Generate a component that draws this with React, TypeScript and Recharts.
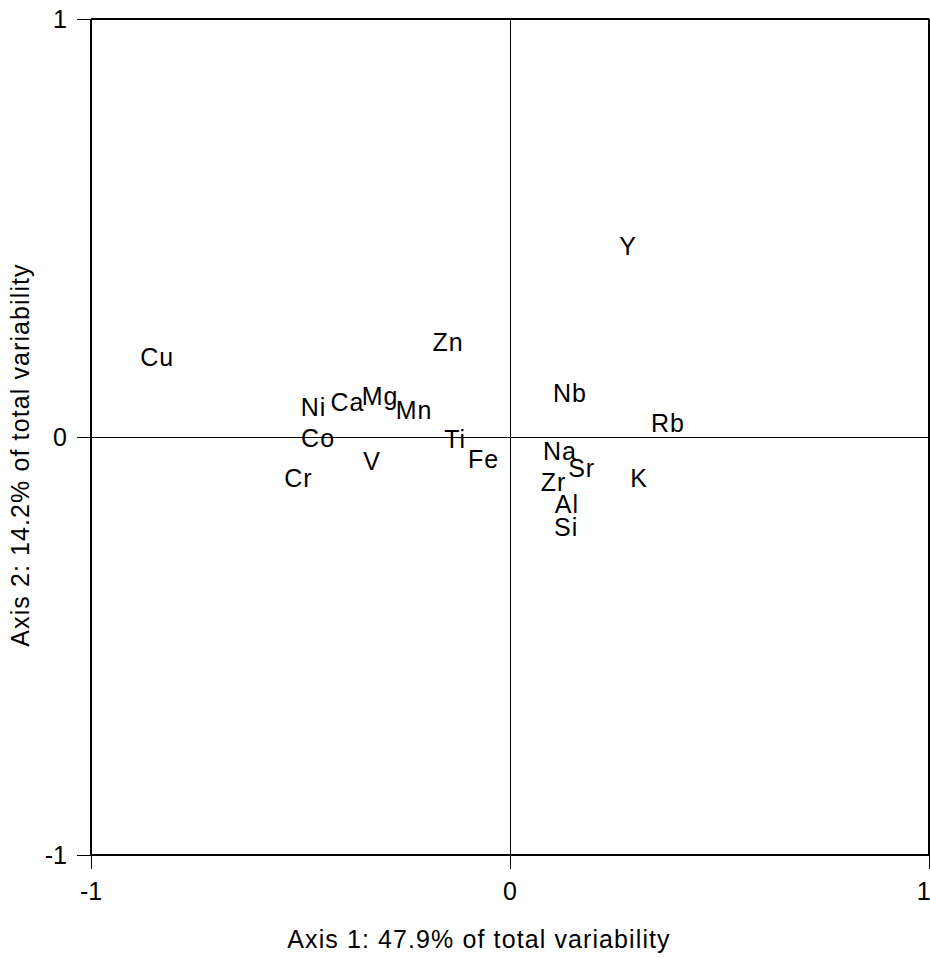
import {
  ScatterChart,
  Scatter,
  XAxis,
  YAxis,
  ReferenceLine,
  Label,
} from 'recharts'

// variable coordinates on the first two factor axes
const elements = ['Cu', 'Y', 'Zn', 'Nb', 'Rb', 'Ni', 'Ca', 'Mg', 'Mn', 'Co', 'V', 'Cr', 'Ti', 'Fe', 'Na', 'Sr', 'Zr', 'K', 'Al', 'Si']
const axis1 = [-0.842, 0.282, -0.148, 0.143, 0.377, -0.469, -0.388, -0.31, -0.229, -0.458, -0.329, -0.505, -0.131, -0.063, 0.119, 0.171, 0.104, 0.308, 0.136, 0.134]
const axis2 = [0.191, 0.457, 0.227, 0.105, 0.033, 0.071, 0.084, 0.097, 0.065, -0.002, -0.057, -0.097, -0.005, -0.053, -0.033, -0.074, -0.108, -0.099, -0.16, -0.215]
const ticks = [-1, 0, 1]

const xTitle = 'Axis 1: 47.9% of total variability'
const yTitle = 'Axis 2: 14.2% of total variability'

const FONT = '"Liberation Sans", Arial, sans-serif'

const data = elements.map((name, i) => ({ name, x: axis1[i], y: axis2[i] }))

function NameShape(props: any) {
  const { cx, cy, payload } = props
  return (
    <text
      x={cx}
      y={cy}
      textAnchor="middle"
      dominantBaseline="central"
      fontSize={25}
      fontFamily={FONT}
      fill="#000"
      style={{ letterSpacing: 1 }}
    >
      {payload.name}
    </text>
  )
}

function XTitle(props: any) {
  const vb = props.viewBox
  return (
    <text
      x={vb.x + vb.width / 2 - 31}
      y={948}
      textAnchor="middle"
      fontSize={25}
      fontFamily={FONT}
      fill="#000"
      style={{ letterSpacing: 1.1 }}
    >
      {xTitle}
    </text>
  )
}

function YTitle(props: any) {
  const vb = props.viewBox
  const cy = vb.y + vb.height / 2 + 18
  return (
    <text
      x={29}
      y={cy}
      transform={`rotate(-90, 29, ${cy})`}
      textAnchor="middle"
      fontSize={25}
      fontFamily={FONT}
      fill="#000"
      style={{ letterSpacing: 1.1 }}
    >
      {yTitle}
    </text>
  )
}

const tickStyle = { fontSize: 25, fill: '#000', fontFamily: FONT }
const crisp = { shapeRendering: 'crispEdges' } as any

export default function App() {
  return (
    <div style={{ position: 'absolute', left: 0, top: 0, width: 930, height: 958, background: '#fff' }}>
      <ScatterChart width={930} height={958} margin={{ top: 19, right: 1, bottom: 43, left: 0 }}>
        <XAxis
          type="number"
          dataKey="x"
          domain={[-1, 1]}
          ticks={ticks}
          allowDataOverflow
          height={60}
          tick={tickStyle}
          tickSize={14}
          tickMargin={13}
          tickLine={{ stroke: '#000', strokeWidth: 1, ...crisp }}
          axisLine={{ stroke: '#000', strokeWidth: 2, ...crisp }}
          label={<Label content={XTitle} />}
        />
        <YAxis
          type="number"
          dataKey="y"
          domain={[-1, 1]}
          ticks={ticks}
          allowDataOverflow
          width={91}
          tick={tickStyle}
          tickSize={14}
          tickMargin={10}
          tickLine={{ stroke: '#000', strokeWidth: 1, ...crisp }}
          axisLine={{ stroke: '#000', strokeWidth: 2, ...crisp }}
          label={<Label content={YTitle} />}
        />
        <ReferenceLine x={0} stroke="#000" strokeWidth={1} strokeOpacity={1} {...crisp} />
        <ReferenceLine y={0} stroke="#000" strokeWidth={1} strokeOpacity={1} {...crisp} />
        <ReferenceLine x={1} stroke="#000" strokeWidth={2} strokeOpacity={1} {...crisp} />
        <ReferenceLine y={1} stroke="#000" strokeWidth={2} strokeOpacity={1} {...crisp} />
        <Scatter data={data} shape={NameShape} isAnimationActive={false} />
      </ScatterChart>
    </div>
  )
}
